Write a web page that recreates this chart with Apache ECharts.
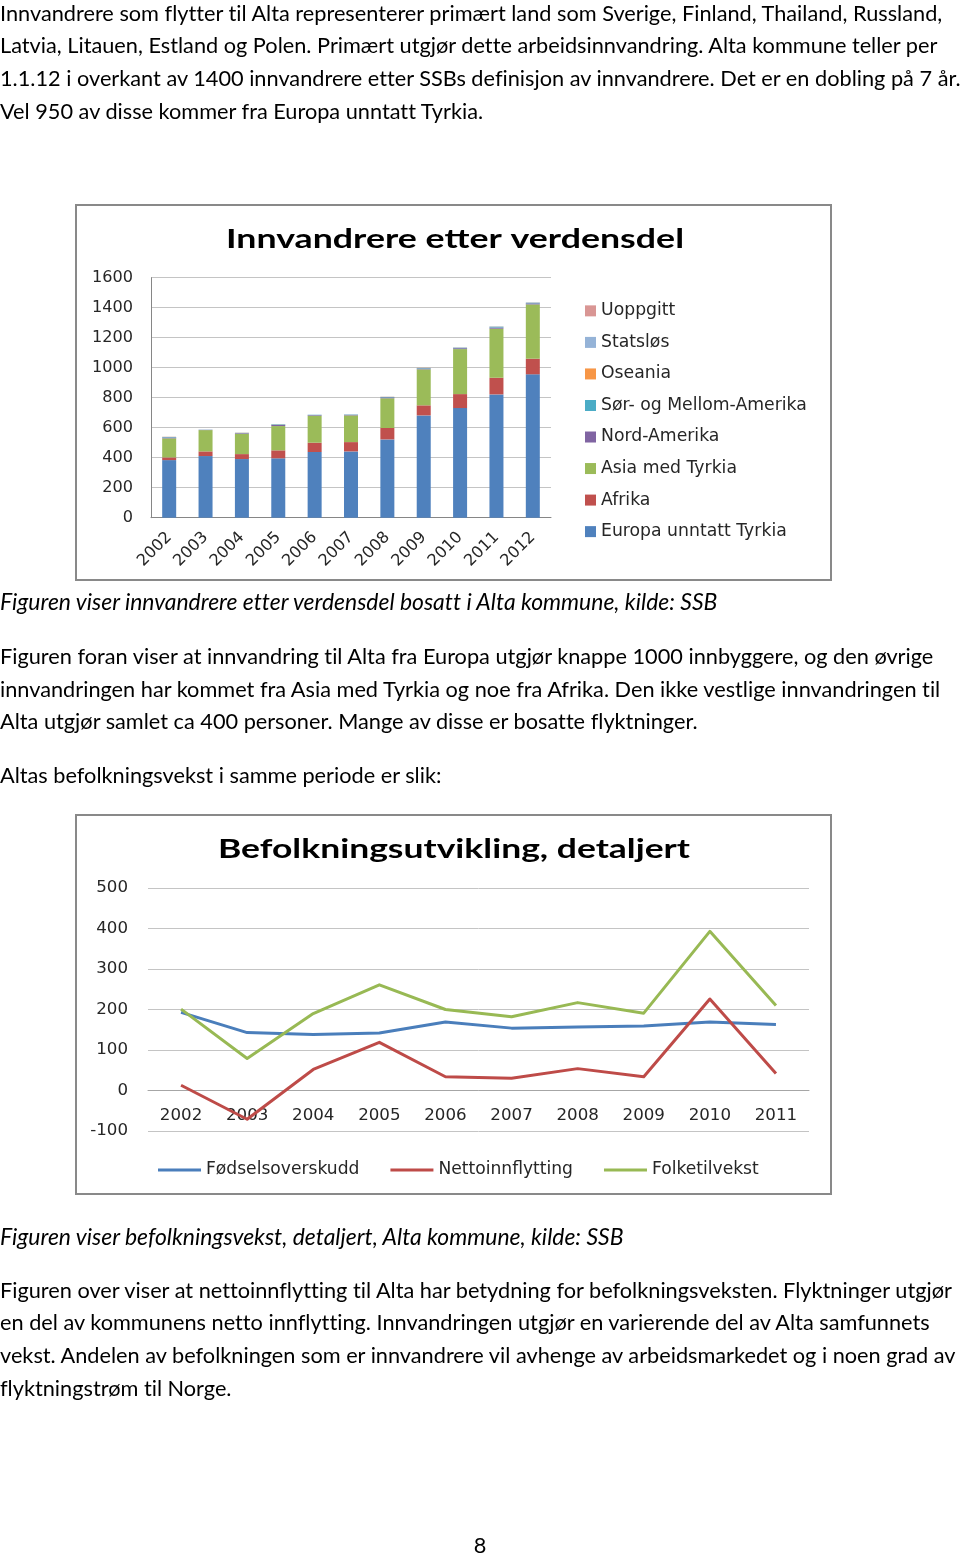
<!DOCTYPE html>
<html><head><meta charset="utf-8">
<script src="https://cdn.jsdelivr.net/npm/echarts@6/dist/echarts.min.js"></script>
<style>
html,body{margin:0;padding:0;background:#fff;}
#page{position:relative;width:960px;height:1554px;overflow:hidden;background:#fff;}
#chart{position:absolute;left:0;top:0;width:960px;height:1554px;}
.ln{position:absolute;left:0;white-space:nowrap;color:#000;height:30px;line-height:30px;z-index:5;
    font-variant-ligatures:none;font-feature-settings:"liga" 0,"clig" 0;}
</style></head><body>
<div id="page"><div id="chart"></div></div>
<script>
// ---------- data ----------
const years1 = ['2002','2003','2004','2005','2006','2007','2008','2009','2010','2011','2012'];
const europa   = [384, 411, 391, 396, 438, 442, 522, 682, 731, 822, 956];
const afrika   = [18, 31, 33, 53, 62, 62, 76, 67, 93, 111, 104];
const asia     = [127, 142, 136, 162, 180, 178, 198, 240, 300, 327, 362];
const nordAm   = [6, 2, 4, 7, 4, 4, 6, 6, 6, 8, 7];
const sorAm    = [3, 1, 2, 4, 2, 2, 3, 3, 3, 5, 4];
const oseania  = [1, 0, 1, 1, 0, 0, 1, 1, 1, 1, 1];
const statslos = [1, 0, 0, 1, 1, 1, 1, 1, 2, 2, 2];
const uoppgitt = [0, 0, 0, 0, 0, 0, 0, 0, 0, 0, 0];
const yTicks1 = [0, 1600, 200]; // min, max, interval

const years2 = ['2002','2003','2004','2005','2006','2007','2008','2009','2010','2011'];
const fodsel  = [193, 143, 138, 142, 169, 154, 157, 159, 169, 163];
const netto   = [13, -71, 52, 119, 34, 30, 54, 34, 226, 42];
const folke   = [201, 79, 190, 261, 200, 182, 217, 191, 393, 210];
const yTicks2 = [-100, 500, 100];

// ---------- page text ----------
const body = [
  [13, 'Innvandrere som flytter til Alta representerer primært land som Sverige, Finland, Thailand, Russland,'],
  [45, 'Latvia, Litauen, Estland og Polen. Primært utgjør dette arbeidsinnvandring. Alta kommune teller per'],
  [78, '1.1.12 i overkant av 1400 innvandrere etter SSBs definisjon av innvandrere. Det er en dobling på 7 år.'],
  [111, 'Vel 950 av disse kommer fra Europa unntatt Tyrkia.'],
  [656, 'Figuren foran viser at innvandring til Alta fra Europa utgjør knappe 1000 innbyggere, og den øvrige'],
  [689, 'innvandringen har kommet fra Asia med Tyrkia og noe fra Afrika. Den ikke vestlige innvandringen til'],
  [721, 'Alta utgjør samlet ca 400 personer. Mange av disse er bosatte flyktninger.'],
  [775, 'Altas befolkningsvekst i samme periode er slik:'],
  [1290, 'Figuren over viser at nettoinnflytting til Alta har betydning for befolkningsveksten. Flyktninger utgjør'],
  [1322, 'en del av kommunens netto innflytting. Innvandringen utgjør en varierende del av Alta samfunnets'],
  [1355, 'vekst. Andelen av befolkningen som er innvandrere vil avhenge av arbeidsmarkedet og i noen grad av'],
  [1388, 'flyktningstrøm til Norge.']
];
const captions = [
  [601, 'Figuren viser innvandrere etter verdensdel bosatt i Alta kommune, kilde: SSB'],
  [1236, 'Figuren viser befolkningsvekst, detaljert, Alta kommune, kilde: SSB']
];

const FAM = 'Lato, "Open Sans", sans-serif';
const CFAM = '"DejaVu Sans", Verdana, sans-serif';
const cv = document.createElement('canvas').getContext('2d');
function mw(t, font){ cv.font = font; return cv.measureText(t).width; }
function fit(pairs, pre, fam){ let s = 0; pairs.forEach(p => { s += p[1] / mw(p[0], pre + ' 100px ' + fam) * 100; }); return s / pairs.length; }

const bodySize = fit([[body[0][1],950],[body[1][1],942],[body[2][1],957],[body[4][1],932],[body[5][1],942],[body[8][1],951],[body[9][1],936],[body[10][1],960]], 'normal', FAM);
const capSize = fit([[captions[0][1],718],[captions[1][1],625]], 'italic', FAM);

const page = document.getElementById('page');
function addLine(y, t, size, italic, center){
  const d = document.createElement('div');
  d.className = 'ln';
  d.textContent = t;
  d.style.top = (y - 15) + 'px';
  d.style.fontFamily = FAM;
  d.style.fontSize = size.toFixed(2) + 'px';
  if (italic) d.style.fontStyle = 'italic';
  if (center) { d.style.left = '0px'; d.style.width = '960px'; d.style.textAlign = 'center'; }
  page.appendChild(d);
}
body.forEach(b => addLine(b[0], b[1], bodySize, false));
captions.forEach(c => addLine(c[0], c[1], capSize, true));
addLine(1545, '8', bodySize, false, true);

// ---------- chart font sizes ----------
const TITLE_PX = 26;
const t1Text = 'Innvandrere etter verdensdel', t2Text = 'Befolkningsutvikling, detaljert';
const t1Scale = 458 / mw(t1Text, 'bold ' + TITLE_PX + 'px ' + FAM);
const t2Scale = 472 / mw(t2Text, 'bold ' + TITLE_PX + 'px ' + FAM);
const ax1Size = fit([['1600', 41], ['1400', 41]], 'normal', CFAM);
const leg1Size = fit([['Sør- og Mellom-Amerika', 207], ['Europa unntatt Tyrkia', 185]], 'normal', CFAM);
const ax2Size = fit([['500', 32], ['-100', 38], ['2002', 42]], 'normal', CFAM);
const leg2Size = fit([['Fødselsoverskudd', 152], ['Nettoinnflytting', 137], ['Folketilvekst', 106]], 'normal', CFAM);

const chart = echarts.init(document.getElementById('chart'), null, {renderer:'canvas'});
const C = {
  europa:'#4F81BD', afrika:'#C0504D', asia:'#9BBB59', nordAm:'#8064A2',
  sorAm:'#4BACC6', oseania:'#F79646', statslos:'#95B3D7', uoppgitt:'#D99694'
};
const barDefs = [
  ['Europa unntatt Tyrkia', europa, C.europa],
  ['Afrika', afrika, C.afrika],
  ['Asia med Tyrkia', asia, C.asia],
  ['Nord-Amerika', nordAm, C.nordAm],
  ['Sør- og Mellom-Amerika', sorAm, C.sorAm],
  ['Oseania', oseania, C.oseania],
  ['Statsløs', statslos, C.statslos],
  ['Uoppgitt', uoppgitt, C.uoppgitt]
];
const lineDefs = [
  ['Fødselsoverskudd', fodsel, '#4A7EBB'],
  ['Nettoinnflytting', netto, '#BE4B48'],
  ['Folketilvekst', folke, '#98B954']
];
const lblColor = '#262626';
const series = [];
barDefs.forEach(d => series.push({
  name: d[0], type:'bar', stack:'tot', xAxisIndex:0, yAxisIndex:0, data:d[1],
  barWidth:14, itemStyle:{color:d[2]}
}));
lineDefs.forEach(d => series.push({
  name: d[0], type:'line', xAxisIndex:1, yAxisIndex:1, data:d[1],
  symbol:'none', lineStyle:{width:3, color:d[2], join:'round'}, itemStyle:{color:d[2]}
}));

const leg1H = Math.max(11, leg1Size);
const leg2H = Math.max(3, leg2Size);
const plain = v => String(v);

const option = {
  animation:false,
  textStyle:{fontFamily:CFAM},
  graphic:[
    {type:'rect', shape:{x:76, y:205, width:755, height:375}, style:{fill:'none', stroke:'#898989', lineWidth:2}},
    {type:'rect', shape:{x:76, y:815, width:755, height:379}, style:{fill:'none', stroke:'#898989', lineWidth:2}},
    {type:'text', x:455, y:240, scaleX:t1Scale, scaleY:1,
     style:{text:t1Text, font:'bold ' + TITLE_PX + 'px ' + FAM, fill:'#000', align:'center', verticalAlign:'middle', textAlign:'center', textVerticalAlign:'middle'}},
    {type:'text', x:454, y:850, scaleX:t2Scale, scaleY:1,
     style:{text:t2Text, font:'bold ' + TITLE_PX + 'px ' + FAM, fill:'#000', align:'center', verticalAlign:'middle', textAlign:'center', textVerticalAlign:'middle'}}
  ],
  grid:[
    {left:151, top:277.7, width:400, height:240},
    {left:148, top:888, width:661, height:243}
  ],
  xAxis:[
    {type:'category', gridIndex:0, data:years1,
     axisLine:{lineStyle:{color:'#868686', width:1}}, axisTick:{show:false},
     axisLabel:{rotate:45, interval:0, margin:17, fontSize:ax1Size, color:lblColor, fontFamily:CFAM}},
    {type:'category', gridIndex:1, data:years2, offset:-40.5,
     axisLine:{onZero:false, lineStyle:{color:'#a6a6a6', width:1}}, axisTick:{show:false},
     axisLabel:{interval:0, margin:25 - ax2Size / 2, fontSize:ax2Size, color:lblColor, fontFamily:CFAM}}
  ],
  yAxis:[
    {type:'value', gridIndex:0, min:yTicks1[0], max:yTicks1[1], interval:yTicks1[2],
     axisLine:{show:true, lineStyle:{color:'#868686'}}, axisTick:{show:false},
     splitLine:{lineStyle:{color:'#c4c4c4', width:1}},
     axisLabel:{margin:18, padding:[2,0,0,0], fontSize:ax1Size, color:lblColor, fontFamily:CFAM, formatter:plain}},
    {type:'value', gridIndex:1, min:yTicks2[0], max:yTicks2[1], interval:yTicks2[2],
     axisLine:{show:false}, axisTick:{show:false},
     splitLine:{lineStyle:{color:'#c4c4c4', width:1}},
     axisLabel:{margin:20, padding:[4,0,0,0], fontSize:ax2Size, color:lblColor, fontFamily:CFAM, formatter:plain}}
  ],
  legend:[
    {orient:'vertical', left:585, top:311 - leg1H / 2, padding:0, itemWidth:11, itemHeight:11, itemGap:31.8 - leg1H,
     icon:'rect', selectedMode:false,
     textStyle:{fontSize:leg1Size, color:lblColor, fontFamily:CFAM},
     data:barDefs.map(d => d[0]).reverse()},
    {orient:'horizontal', left:158, top:1170 - leg2H / 2, padding:0, itemWidth:43, itemHeight:3, itemGap:31,
     icon:'rect', selectedMode:false,
     textStyle:{fontSize:leg2Size, color:lblColor, fontFamily:CFAM},
     data:lineDefs.map(d => d[0])}
  ],
  series: series
};
chart.setOption(option);
</script>
</body></html>
